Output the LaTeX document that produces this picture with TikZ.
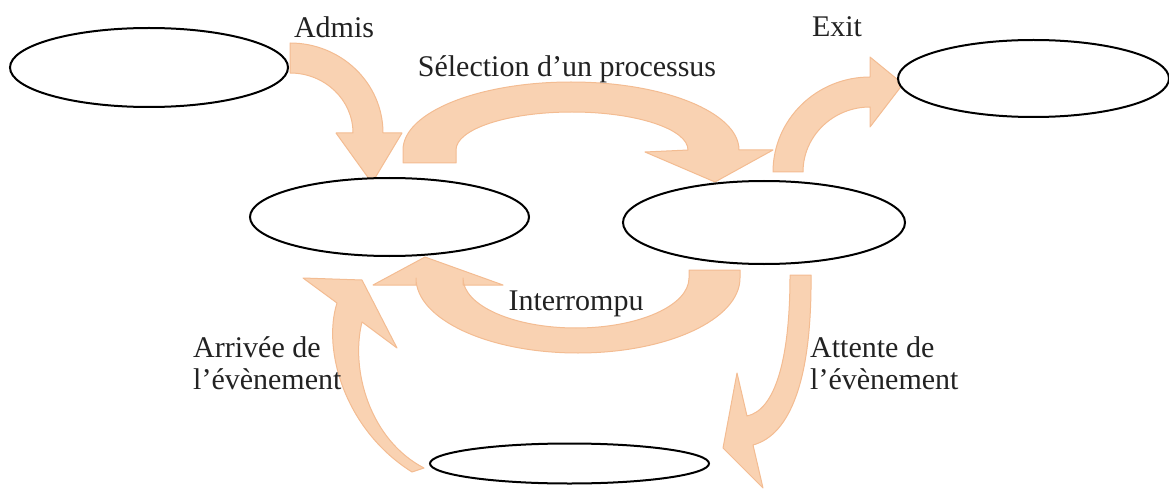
\documentclass[tikz,border=0pt]{standalone}
\usepackage{fontspec}
\setmainfont{Liberation Serif}
\usetikzlibrary{shapes.geometric}
\definecolor{arrfill}{HTML}{F9D2B2}
\definecolor{arredge}{HTML}{F3BC92}
\definecolor{txt}{HTML}{222222}
\begin{document}
\begin{tikzpicture}[x=1pt,y=-1pt,
  arr/.style={fill=arrfill, draw=arredge, line width=1pt, line join=round},
  state/.style={ellipse, draw=black, line width=2pt, fill=white, inner sep=0pt},
  lbl/.style={font=\fontsize{30}{32}\selectfont, text=txt, inner sep=0pt},
  lbl2/.style={lbl, align=left, anchor=north west}]
\useasboundingbox (0,0) rectangle (1169,489);
% arrows
% Admis
\path[arr] (290,43) arc[start angle=270,end angle=360,x radius=93,y radius=90]
  -- (402,133) -- (372,183) -- (336,133) -- (353,133)
  arc[start angle=360,end angle=270,x radius=63,y radius=60] -- cycle;
% Selection
\path[arr] (403,163) -- (403,150) arc[start angle=180,end angle=360,x radius=168,y radius=68]
  -- (773,150) -- (715,182) -- (645,152) -- (688,150)
  arc[start angle=360,end angle=180,x radius=116,y radius=38] -- (456,163) -- cycle;
% Exit
\path[arr] (773,172) arc[start angle=180,end angle=270,x radius=97,y radius=95]
  -- (870,57) -- (903,84) -- (870,127) -- (870,107)
  arc[start angle=270,end angle=180,x radius=67,y radius=65] -- cycle;
% Interrompu
\path[arr] (740,270) -- (740,278) arc[start angle=0,end angle=180,x radius=162,y radius=75]
  -- (416,285) -- (373,285) -- (425,257) -- (503,285) -- (463,285) -- (463,278)
  arc[start angle=180,end angle=0,x radius=113,y radius=50] -- (689,270) -- cycle;
% Attente
\path[arr] (790,275) -- (811,275) .. controls (812,380) and (790,435) .. (753,445)
  -- (763,488) -- (723,448) -- (737,373) -- (747,416)
  .. controls (775,410) and (790,360) .. (790,275) -- cycle;
% Arrivee
\path[arr] (412,472) .. controls (345,430) and (322,350) .. (337,303)
  -- (303,278) -- (362,280) -- (397,348) -- (362,322)
  .. controls (350,370) and (370,440) .. (424,468) -- cycle;
% states
\node[state, minimum width=278pt, minimum height=79pt] (new) at (149,67.5) {};
\node[state, minimum width=279pt, minimum height=78pt] (ready) at (389.5,217) {};
\node[state, minimum width=282pt, minimum height=83pt] (run) at (764,222.5) {};
\node[state, minimum width=271pt, minimum height=77pt] (term) at (1033.5,78.5) {};
\node[state, minimum width=279pt, minimum height=40pt] (wait) at (569.5,463.5) {};
% labels
\node[lbl] (ladmis) at (334,27) {Admis};
\node[lbl] (lsel) at (567,69) {Sélection d’un processus};
\node[lbl] (lexit) at (837,27) {Exit};
\node[lbl] (lint) at (576,304) {Interrompu};
\node[lbl2] (larr) at (193,336) {Arrivée de\\l’évènement};
\node[lbl2] (latt) at (810,336) {Attente de\\l’évènement};
\end{tikzpicture}
\end{document}
